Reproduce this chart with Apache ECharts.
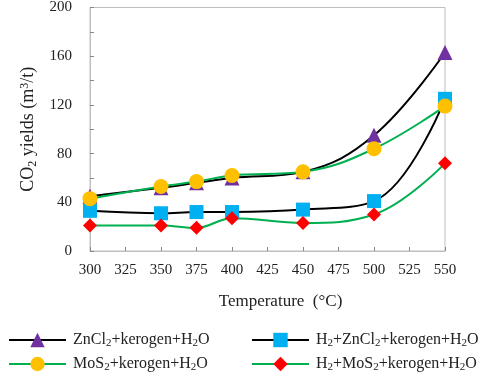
<!DOCTYPE html>
<html>
<head>
<meta charset="utf-8">
<script src="https://cdn.jsdelivr.net/npm/echarts@6/dist/echarts.min.js"></script>
<style>
  html, body { margin: 0; padding: 0; background: #fff; }
  #chart { width: 484px; height: 376px; }
</style>
</head>
<body>
<div id="chart"></div>
<script>
// 数据
const temps = [300, 350, 375, 400, 450, 500, 550];
const znCl2 = [45, 52, 56, 60, 65, 95, 163];
const h2ZnCl2 = [33, 31, 32, 32, 34, 41, 125];
const moS2 = [43, 53, 57, 62, 65, 84, 119];
const h2MoS2 = [21, 21, 19, 27, 23, 30, 72];
const xTicks = [300, 325, 350, 375, 400, 425, 450, 475, 500, 525, 550];
const yTicks = [0, 40, 80, 120, 160, 200];

const FONT = '"Liberation Serif", "Times New Roman", serif';
const GRAY = '#bfbfbf';

const pairs = (ys) => temps.map((t, i) => [t, ys[i]]);

const richOf = (big, small) => ({
    a: { fontFamily: FONT, fontSize: big, color: '#222' },
    s: { fontFamily: FONT, fontSize: small, color: '#222', padding: [Math.round(big * 0.45), 0, 0, 0] },
    p: { fontFamily: FONT, fontSize: small, color: '#222', padding: [0, 0, Math.round(big * 0.4), 0] },
});

const labels = {
    'ZnCl2+kerogen+H2O': '{a|ZnCl}{s|2}{a|+kerogen+H}{s|2}{a|O}',
    'H2+ZnCl2+kerogen+H2O': '{a|H}{s|2}{a|+ZnCl}{s|2}{a|+kerogen+H}{s|2}{a|O}',
    'MoS2+kerogen+H2O': '{a|MoS}{s|2}{a|+kerogen+H}{s|2}{a|O}',
    'H2+MoS2+kerogen+H2O': '{a|H}{s|2}{a|+MoS}{s|2}{a|+kerogen+H}{s|2}{a|O}',
};

const mkSeries = (name, data, lineColor, markColor, symbol, size) => ({
    name,
    type: 'line',
    data: pairs(data),
    smooth: 0.4,
    symbol,
    symbolSize: size,
    lineStyle: { color: lineColor, width: 2 },
    itemStyle: { color: markColor },
    z: 2,
});

const mkLegend = (name, left, top) => ({
    data: [name],
    left,
    top,
    itemWidth: 57,
    itemHeight: 18,
    formatter: (n) => labels[n],
    textStyle: { fontFamily: FONT, fontSize: 16, rich: richOf(16, 11), padding: [0, 0, 0, 2] },
});

const chart = echarts.init(document.getElementById('chart'));

chart.setOption({
    animation: false,
    grid: {
        left: 90, right: 39, top: 6, bottom: 125,
        show: true, borderColor: GRAY, borderWidth: 1,
    },
    legend: [
        mkLegend('ZnCl2+kerogen+H2O', 3, 327),
        mkLegend('H2+ZnCl2+kerogen+H2O', 246, 327),
        mkLegend('MoS2+kerogen+H2O', 3, 351),
        mkLegend('H2+MoS2+kerogen+H2O', 246, 351),
    ],
    xAxis: {
        type: 'value',
        min: xTicks[0],
        max: xTicks[xTicks.length - 1],
        interval: 25,
        name: 'Temperature  (°C)',
        nameLocation: 'middle',
        nameGap: 42,
        nameTextStyle: { fontFamily: FONT, fontSize: 17, color: '#222', padding: [0, 0, 0, 26] },
        axisLine: { lineStyle: { color: GRAY } },
        axisTick: { inside: true, length: 4, lineStyle: { color: '#888' } },
        axisLabel: { fontFamily: FONT, fontSize: 15, color: '#222', margin: 12 },
        splitLine: { show: false },
    },
    yAxis: {
        type: 'value',
        min: yTicks[0],
        max: yTicks[yTicks.length - 1],
        interval: 20,
        name: '{a|CO}{s|2}{a| yields (m}{p|3}{a|/t)}',
        nameLocation: 'middle',
        nameRotate: 90,
        nameGap: 45,
        nameTextStyle: { fontFamily: FONT, fontSize: 18, rich: richOf(18, 12) },
        axisLine: { show: true, lineStyle: { color: GRAY } },
        axisTick: { inside: true, length: 4, lineStyle: { color: '#888' } },
        axisLabel: {
            fontFamily: FONT, fontSize: 15, color: '#222', margin: 18,
            formatter: (v) => (yTicks.includes(v) ? String(v) : ''),
        },
        splitLine: { show: false },
    },
    series: [
        mkSeries('ZnCl2+kerogen+H2O', znCl2, '#000', '#7030a0', 'triangle', 15),
        mkSeries('H2+ZnCl2+kerogen+H2O', h2ZnCl2, '#000', '#00b0f0', 'rect', 14),
        mkSeries('MoS2+kerogen+H2O', moS2, '#00b050', '#ffc000', 'circle', 15),
        mkSeries('H2+MoS2+kerogen+H2O', h2MoS2, '#00b050', '#ff0000', 'diamond', 14),
    ],
});
</script>
</body>
</html>
